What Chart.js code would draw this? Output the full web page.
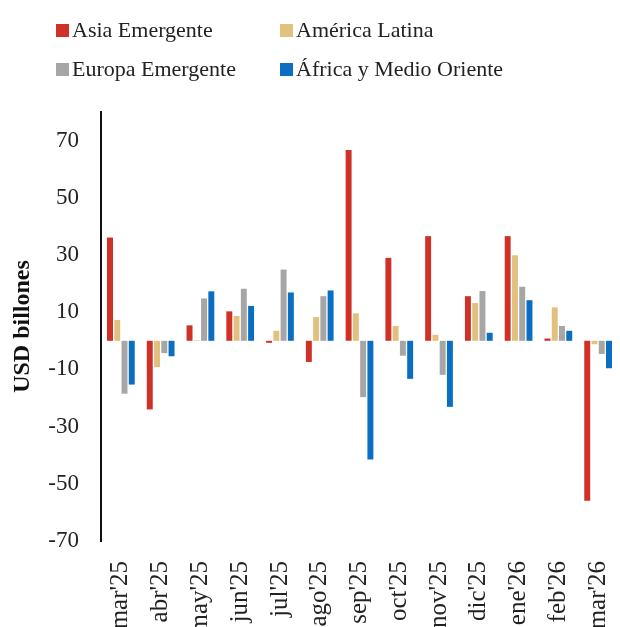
<!DOCTYPE html>
<html>
<head>
<meta charset="utf-8">
<script src="https://cdn.jsdelivr.net/npm/chart.js@4.4.1/dist/chart.umd.min.js"></script>
<style>
  html, body { margin: 0; padding: 0; background: #fff; overflow: hidden; }
  #wrap { position: relative; width: 620px; height: 627px; overflow: hidden; }
  #legend { position: absolute; left: 0; top: 0; width: 620px; height: 90px; z-index: 2;
            font-family: "Liberation Serif", serif; font-size: 22px; color: #222; }
  .item { position: absolute; display: flex; align-items: center; white-space: nowrap; }
  .box { width: 13px; height: 13px; margin-right: 3px; }
  #chartBox { position: absolute; left: 0; top: 0; width: 620px; height: 631px; }
</style>
</head>
<body>
<div id="wrap">
  <div id="legend"></div>
  <div id="chartBox"><canvas id="barChart"></canvas></div>
</div>
<script>
// data (USD billones)
const months = ["mar'25", "abr'25", "may'25", "jun'25", "jul'25", "ago'25", "sep'25",
                "oct'25", "nov'25", "dic'25", "ene'26", "feb'26", "mar'26"];
const asiaEmergente   = [36.1, -24.0, 5.4, 10.3, -0.7, -7.4, 66.7, 29.0, 36.6, 15.6, 36.6, 0.8, -55.9];
const americaLatina   = [7.3, -9.2, 0.2, 8.7, 3.5, 8.3, 9.6, 5.2, 2.1, 13.2, 29.9, 11.7, -1.2];
const europaEmergente = [-18.5, -4.3, 14.8, 18.2, 24.9, 15.6, -19.7, -5.2, -11.9, 17.4, 18.9, 5.2, -4.6];
const africaMedioOr   = [-15.3, -5.4, 17.3, 12.2, 16.9, 17.6, -41.5, -13.3, -23.1, 2.8, 14.2, 3.5, -9.6];
const yTicks = [-70, -50, -30, -10, 10, 30, 50, 70];

const seriesNames  = ["Asia Emergente", "América Latina", "Europa Emergente", "África y Medio Oriente"];
const seriesColors = ['#cf3127', '#e2c07f', '#a6a6a6', '#0a6fc2'];
const seriesData   = [asiaEmergente, americaLatina, europaEmergente, africaMedioOr];

const font = "'Liberation Serif', serif";

// legend in two columns, like the original
const legendPos = [[56, 17], [280, 17], [56, 56], [280, 56]];
const legendEl = document.getElementById('legend');
seriesNames.forEach((name, i) => {
  const it = document.createElement('div');
  it.className = 'item';
  it.style.left = legendPos[i][0] + 'px';
  it.style.top = legendPos[i][1] + 'px';
  it.innerHTML = '<span class="box" style="background:' + seriesColors[i] + '"></span><span>' + name + '</span>';
  legendEl.appendChild(it);
});

const canvas = document.getElementById('barChart');
new Chart(canvas, {
  type: 'bar',
  data: {
    labels: months,
    datasets: seriesNames.map((name, i) => ({
      label: name,
      data: seriesData[i],
      backgroundColor: seriesColors[i],
      borderWidth: 0,
      categoryPercentage: 0.73,
      barPercentage: 0.82
    }))
  },
  options: {
    responsive: true,
    maintainAspectRatio: false,
    animation: false,
    layout: { padding: { top: 112, right: 2, left: 0, bottom: 0 } },
    plugins: { legend: { display: false }, tooltip: { enabled: false } },
    scales: {
      x: {
        grid: { display: false },
        border: { display: false },
        ticks: {
          color: '#222',
          font: { family: font, size: 25 },
          minRotation: 90, maxRotation: 90,
          padding: 12,
          autoSkip: false
        },
        afterFit(scale) {
          scale.height = 90;
          scale.paddingLeft = 0;
          scale.paddingRight = 0;
        }
      },
      y: {
        min: -70,
        max: 80,
        afterBuildTicks(scale) { scale.ticks = yTicks.map(v => ({ value: v })); },
        afterFit(scale) { scale.width = 101; },
        border: { display: true, color: '#111', width: 2 },
        grid: {
          drawTicks: false,
          lineWidth: 2,
          color: ctx => (ctx.tick && ctx.tick.value === 0 ? '#111' : 'rgba(0,0,0,0)')
        },
        ticks: {
          color: '#222',
          font: { family: font, size: 23 },
          padding: 22
        },
        title: {
          display: true,
          text: 'USD billones',
          color: '#111',
          font: { family: font, size: 24, weight: 'bold' },
          padding: { top: 8, bottom: 4 }
        }
      }
    }
  }
});
</script>
</body>
</html>
